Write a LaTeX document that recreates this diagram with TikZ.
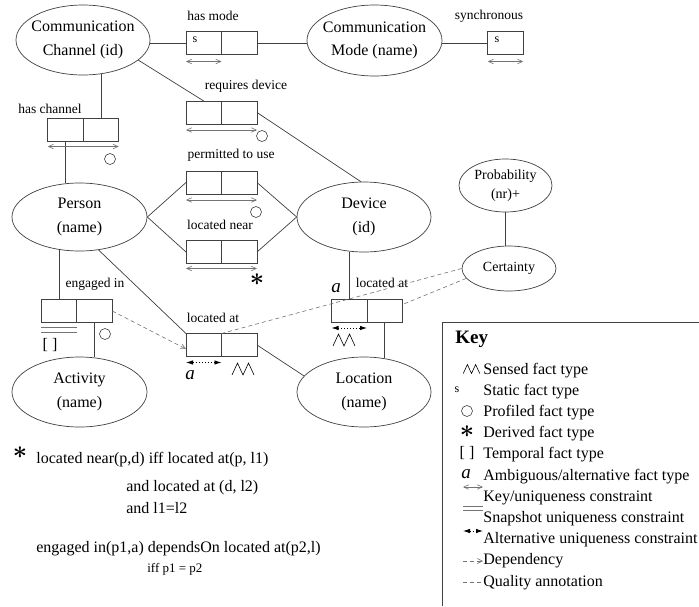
\documentclass[tikz,border=0pt]{standalone}
\usepackage{fontspec}
\setmainfont{Liberation Serif}
\usetikzlibrary{shapes.geometric,arrows.meta}
\definecolor{lc}{gray}{0.25}
\definecolor{cg}{gray}{0.45}
\begin{document}
\begin{tikzpicture}[x=1pt,y=-1pt,line width=0.7pt,
  ent/.style={ellipse,draw=lc,inner sep=0pt},
  entlab/.style={align=center,font=\fontsize{16}{23.5}\selectfont,inner sep=0pt},
  smalllab/.style={align=center,font=\fontsize{14}{19}\selectfont,inner sep=0pt},
  role/.style={draw=lc,minimum width=35.5pt,minimum height=23pt,inner sep=0pt,outer sep=0pt},
  lbl/.style={font=\fontsize{13.5}{15}\selectfont,inner sep=0pt},
  conn/.style={draw=lc},
  keyc/.style={draw=cg,line width=0.6pt,{Straight Barb[length=5pt,width=4.5pt]}-{Straight Barb[length=5pt,width=4.5pt]}},
  altc/.style={draw=black,line width=0.8pt,dash pattern=on 1pt off 2pt,{Latex[length=7pt,width=4.5pt]}-{Latex[length=7pt,width=4.5pt]}},
  snapl/.style={draw=cg,line width=0.8pt},
  prof/.style={circle,draw=lc,line width=0.6pt,minimum size=11pt,inner sep=0pt},
  depc/.style={draw=cg,line width=0.6pt,dash pattern=on 4pt off 3pt,-{Straight Barb[length=5pt,width=5pt]}},
  qual/.style={draw=cg,line width=0.6pt,dash pattern=on 4pt off 3pt},
  txt/.style={font=\fontsize{16}{22}\selectfont,inner sep=0pt,anchor=base west},
  amb/.style={font=\fontsize{19}{19}\selectfont\itshape,inner sep=0pt},
  ast/.style={font=\fontsize{30}{30}\selectfont\boldmath,inner sep=0pt},
  stat/.style={font=\fontsize{12}{12}\selectfont,inner sep=0pt},
  tmp/.style={font=\fontsize{16}{16}\selectfont,inner sep=0pt},
  sensed/.pic={\draw[black,line width=0.6pt] (-11,6)--(-5.5,-6)--(0,6)--(5.5,-6)--(11,6);}
]
\fill[white] (0,0) rectangle (699,606);
\useasboundingbox (0,0) rectangle (699,606);

% entities
\node[ent,minimum width=134pt,minimum height=70pt,label={[entlab]center:Communication\\Channel (id)}] (cc) at (83,40) {};
\node[ent,minimum width=135pt,minimum height=71pt,label={[entlab]center:Communication\\Mode (name)}] (cm) at (374.5,40.5) {};
\node[ent,minimum width=135pt,minimum height=68pt,label={[entlab]center:Person\\(name)}] (person) at (79.5,217) {};
\node[ent,minimum width=134pt,minimum height=70pt,label={[entlab]center:Device\\(id)}] (device) at (364,217) {};
\node[ent,minimum width=135pt,minimum height=70pt,label={[entlab]center:Activity\\(name)}] (activity) at (79.5,392) {};
\node[ent,minimum width=134pt,minimum height=70pt,label={[entlab]center:Location\\(name)}] (location) at (364,392) {};
\node[ent,minimum width=93pt,minimum height=53pt,label={[smalllab]center:Probability\\(nr)+}] (prob) at (505.5,185.5) {};
\node[ent,minimum width=94pt,minimum height=45pt,label={[smalllab]center:Certainty}] (cert) at (509,268.5) {};

% fact types (roles)
\node[role] (hm1) at (203.75,43) {};
\node[role] (hm2) at (239.25,43) {};
\node[role] (sy) at (505.5,43) {};
\node[role] (hc1) at (65.5,130) {};
\node[role] (hc2) at (101,130) {};
\node[role] (rd1) at (203.75,112.5) {};
\node[role] (rd2) at (239.25,112.5) {};
\node[role] (pu1) at (203.75,182.5) {};
\node[role] (pu2) at (239.25,182.5) {};
\node[role] (ln1) at (203.75,252) {};
\node[role] (ln2) at (239.25,252) {};
\node[role] (la1) at (203.75,345) {};
\node[role] (la2) at (239.25,345) {};
\node[role] (ei1) at (59,311) {};
\node[role] (ei2) at (94.5,311) {};
\node[role] (dla1) at (349.25,310.5) {};
\node[role] (dla2) at (384.75,310.5) {};

% static markers
\node[stat] (s1) at (195,40) {s};
\node[stat] (s2) at (497,40) {s};

% labels
\node[lbl] (lhm) at (213,16) {has mode};
\node[lbl] (lsy) at (489,16) {synchronous};
\node[lbl] (lrd) at (246,86) {requires device};
\node[lbl] (lhc) at (50,109) {has channel};
\node[lbl] (lpu) at (231,155) {permitted to use};
\node[lbl] (lln) at (220,225) {located near};
\node[lbl] (lei) at (95,284) {engaged in};
\node[lbl] (lla) at (213,318) {located at};
\node[lbl] (ldla) at (382,283) {located at};

% connectors
\draw[conn] (hm1.west) -- (hm1.west -| cc.east);
\draw[conn] (hm2.east) -- (hm2.east -| cm.west);
\draw[conn] (sy.west) -- (sy.west -| cm.east);
\draw[conn] (hc2.north) -- (hc2.north |- cc.-63);
\draw[conn] (hc1.south) -- (hc1.south |- person.113);
\draw[conn] (cc.-20) -- (rd1.north);
\draw[conn] (rd2.east) -- (device.95);
\draw[conn] (person.east) -- (pu1.west);
\draw[conn] (pu2.east) -- (device.west);
\draw[conn] (person.east) -- (ln1.west);
\draw[conn] (ln2.east) -- (device.west);
\draw[conn] (person.-60) -- (la1.north west);
\draw[conn] (la2.east) -- (location.165);
\draw[conn] (ei1.north) -- (ei1.north |- person.-122);
\draw[conn] (ei2.south) -- (ei2.south |- activity.67);
\draw[conn] (dla1.north) -- (dla1.north |- device.-113);
\draw[conn] (dla2.south) -- (dla2.south |- location.58);
\draw[conn] (prob.south) -- (prob.south |- cert.north);

% quality annotations and dependency
\draw[qual] (cert.west) -- (la1.north east);
\draw[qual] (cert.193) -- ([yshift=6pt]dla2.east);
\draw[depc] (ei2.east) -- ([yshift=-4pt]la1.west);

% constraints
\draw[keyc] ([yshift=-7pt]hm1.south west) -- ([yshift=-7pt]hm1.south east);
\draw[keyc] ([yshift=-7pt]sy.south west) -- ([yshift=-7pt]sy.south east);
\draw[keyc] ([yshift=-5pt]hc1.south west) -- ([yshift=-5pt]hc2.south east);
\draw[keyc] ([yshift=-6pt]rd1.south west) -- ([yshift=-6pt]rd2.south east);
\draw[keyc] ([yshift=-6pt]pu1.south west) -- ([yshift=-6pt]pu2.south east);
\draw[keyc] ([yshift=-5pt]ln1.south west) -- ([yshift=-5pt]ln2.south east);
\draw[altc] ([yshift=-6pt]la1.south west) -- ([yshift=-6pt]la1.south east);
\draw[altc] ([yshift=-6pt]dla1.south west) -- ([yshift=-6pt]dla1.south east);
\draw[snapl] ([yshift=-5pt]ei1.south west) -- ([yshift=-5pt]ei1.south east);
\draw[snapl] ([yshift=-9.5pt]ei1.south west) -- ([yshift=-9.5pt]ei1.south east);

% markers
\node[prof] (p1) at (110,159) {};
\node[prof] (p2) at (262,136) {};
\node[prof] (p3) at (256,212) {};
\node[prof] (p4) at (105,334) {};
\node[ast] (a1) at (257,280) {$\ast$};
\node[amb] (m1) at (190,375) {a};
\node[amb] (m2) at (336,288) {a};
\pic at (243,369) {sensed};
\pic at (344,340) {sensed};
\node[tmp] (t1) at (50,345) {[ ]};

% formulas
\node[ast] (a2) at (20,453) {$\ast$};
\node[txt] (f1) at (36,463) {located near(p,d) iff located at(p, l1)};
\node[txt] (f2) at (126,491) {and located at (d, l2)};
\node[txt] (f3) at (126,513) {and l1=l2};
\node[txt] (f4) at (36,552) {engaged in(p1,a) dependsOn located at(p2,l)};
\node[txt,font=\fontsize{13}{15}\selectfont] (f5) at (147,572) {iff p1 = p2};

% key
\draw[lc,line width=0.8pt] (442,606) -- (442,322) -- (699,322);
\node[txt,font=\fontsize{19}{19}\selectfont\bfseries] (kt) at (455,343) {Key};
\pic[scale=0.75] at (471.5,369) {sensed};
\node[txt] (k1) at (483,374) {Sensed fact type};
\node[stat] (ks) at (457,390) {s};
\node[txt] (k2) at (483,395.2) {Static fact type};
\node[prof] (kp) at (467,411) {};
\node[txt] (k3) at (483,416.4) {Profiled fact type};
\node[ast] (ka) at (467,432) {$\ast$};
\node[txt] (k4) at (483,437.6) {Derived fact type};
\node[tmp] (kb) at (467,453) {[ ]};
\node[txt] (k5) at (483,458.8) {Temporal fact type};
\node[amb] (km) at (466,474) {a};
\node[txt] (k6) at (483,480) {Ambiguous/alternative fact type};
\draw[keyc] (463,487) -- (483,487);
\node[txt] (k7) at (483,501.2) {Key/uniqueness constraint};
\draw[snapl] (463,506) -- (483,506);
\draw[snapl] (463,510) -- (483,510);
\node[txt] (k8) at (483,522.4) {Snapshot uniqueness constraint};
\draw[altc] (463,531) -- (483,531);
\node[txt] (k9) at (483,543.6) {Alternative uniqueness constraint};
\draw[depc] (463,561) -- (483,561);
\node[txt] (k10) at (483,564.8) {Dependency};
\draw[qual] (463,582) -- (483,582);
\node[txt] (k11) at (483,586) {Quality annotation};
\end{tikzpicture}
\end{document}
